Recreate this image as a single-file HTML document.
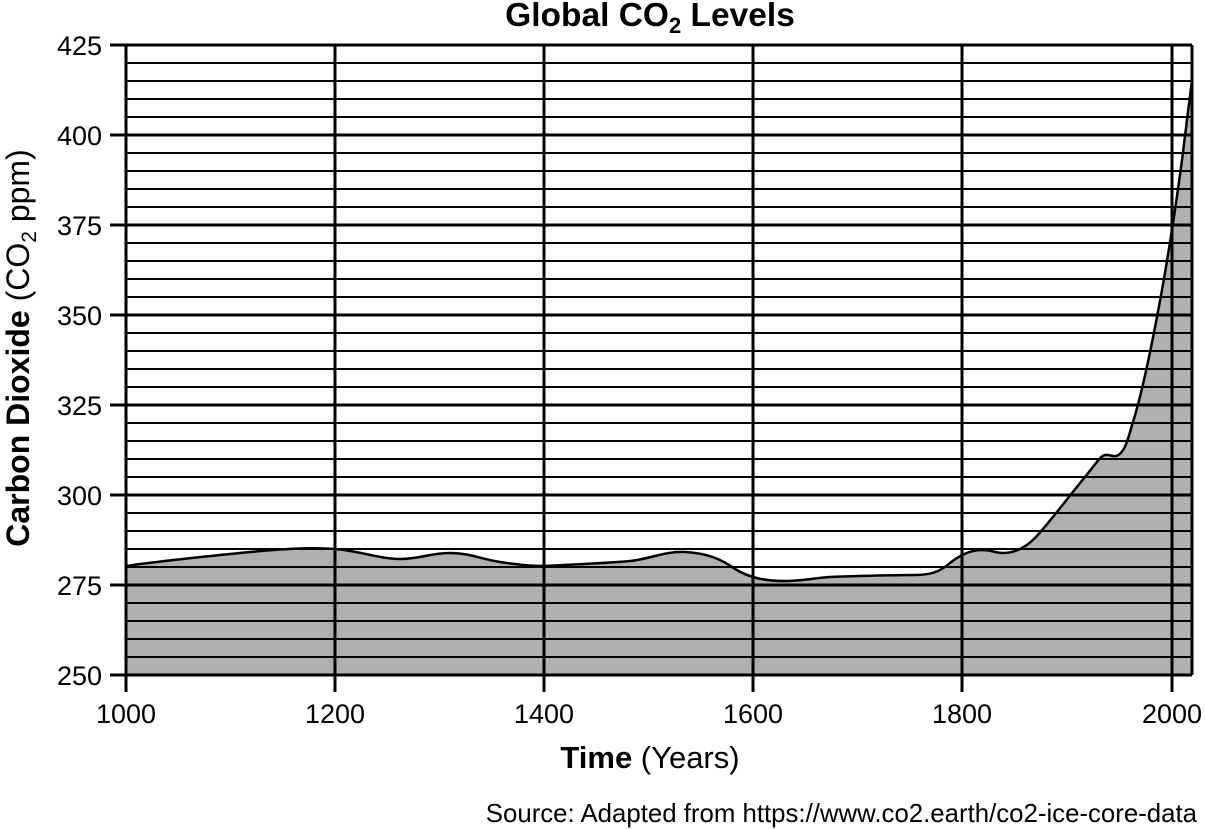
<!DOCTYPE html>
<html><head><meta charset="utf-8"><style>
html,body{margin:0;padding:0;background:#fff;}
svg{display:block;font-family:"Liberation Sans",Arial,sans-serif;}
</style></head><body>
<svg width="1205" height="829" viewBox="0 0 1205 829" xmlns="http://www.w3.org/2000/svg">
<path d="M126,566 C160,561 200,557 240,553 C280,549 310,547 335,549 C360,551 380,559 400,559 C420,559 430,553 450,553 C470,553 480,559 500,562 C520,565 530,566 544,566 C580,564 610,563 630,561 C650,559 665,551 685,552 C705,553 720,558 735,569 C750,578 765,581 785,581 C800,581 815,578 830,577 C860,576 890,575 915,575 C930,575 940,572 950,563 C960,555 970,550 982,550 C992,550 995,553 1003,553 C1015,553 1025,548 1035,538 C1050,522 1070,495 1085,477 C1095,465 1100,456 1105,455 C1110,454 1112,457 1116,456 C1124,454 1128,440 1132,425 C1142,395 1152,345 1162,290 C1170,245 1176,205 1182,160 C1186,130 1189,105 1192,80 L1192,675 L126,675 Z" fill="#b0b0b0"/>
<g stroke="#000" stroke-width="2">
<line x1="126" y1="63" x2="1192" y2="63"/><line x1="126" y1="81" x2="1192" y2="81"/><line x1="126" y1="99" x2="1192" y2="99"/><line x1="126" y1="117" x2="1192" y2="117"/>
<line x1="126" y1="153" x2="1192" y2="153"/><line x1="126" y1="171" x2="1192" y2="171"/><line x1="126" y1="189" x2="1192" y2="189"/><line x1="126" y1="207" x2="1192" y2="207"/>
<line x1="126" y1="243" x2="1192" y2="243"/><line x1="126" y1="261" x2="1192" y2="261"/><line x1="126" y1="279" x2="1192" y2="279"/><line x1="126" y1="297" x2="1192" y2="297"/>
<line x1="126" y1="333" x2="1192" y2="333"/><line x1="126" y1="351" x2="1192" y2="351"/><line x1="126" y1="369" x2="1192" y2="369"/><line x1="126" y1="387" x2="1192" y2="387"/>
<line x1="126" y1="423" x2="1192" y2="423"/><line x1="126" y1="441" x2="1192" y2="441"/><line x1="126" y1="459" x2="1192" y2="459"/><line x1="126" y1="477" x2="1192" y2="477"/>
<line x1="126" y1="513" x2="1192" y2="513"/><line x1="126" y1="531" x2="1192" y2="531"/><line x1="126" y1="549" x2="1192" y2="549"/><line x1="126" y1="567" x2="1192" y2="567"/>
<line x1="126" y1="603" x2="1192" y2="603"/><line x1="126" y1="621" x2="1192" y2="621"/><line x1="126" y1="639" x2="1192" y2="639"/><line x1="126" y1="657" x2="1192" y2="657"/>
</g>
<g stroke="#000" stroke-width="3">
<line x1="110" y1="45" x2="1192" y2="45"/><line x1="110" y1="135" x2="1192" y2="135"/><line x1="110" y1="225" x2="1192" y2="225"/><line x1="110" y1="315" x2="1192" y2="315"/><line x1="110" y1="405" x2="1192" y2="405"/><line x1="110" y1="495" x2="1192" y2="495"/><line x1="110" y1="585" x2="1192" y2="585"/><line x1="110" y1="675" x2="1192" y2="675"/>
<line x1="126" y1="45" x2="126" y2="692"/><line x1="335" y1="45" x2="335" y2="692"/><line x1="544" y1="45" x2="544" y2="692"/><line x1="753" y1="45" x2="753" y2="692"/><line x1="962" y1="45" x2="962" y2="692"/><line x1="1172" y1="45" x2="1172" y2="692"/><line x1="1192" y1="45" x2="1192" y2="675"/>
</g>
<path d="M126,566 C160,561 200,557 240,553 C280,549 310,547 335,549 C360,551 380,559 400,559 C420,559 430,553 450,553 C470,553 480,559 500,562 C520,565 530,566 544,566 C580,564 610,563 630,561 C650,559 665,551 685,552 C705,553 720,558 735,569 C750,578 765,581 785,581 C800,581 815,578 830,577 C860,576 890,575 915,575 C930,575 940,572 950,563 C960,555 970,550 982,550 C992,550 995,553 1003,553 C1015,553 1025,548 1035,538 C1050,522 1070,495 1085,477 C1095,465 1100,456 1105,455 C1110,454 1112,457 1116,456 C1124,454 1128,440 1132,425 C1142,395 1152,345 1162,290 C1170,245 1176,205 1182,160 C1186,130 1189,105 1192,80" fill="none" stroke="#000" stroke-width="2.5"/>
<g font-size="27" text-anchor="end" fill="#000">
<text x="102" y="55">425</text><text x="102" y="145">400</text><text x="102" y="235">375</text><text x="102" y="325">350</text><text x="102" y="415">325</text><text x="102" y="505">300</text><text x="102" y="595">275</text><text x="102" y="685">250</text>
</g>
<g font-size="27" text-anchor="middle" fill="#000">
<text x="126" y="723">1000</text><text x="335" y="723">1200</text><text x="544" y="723">1400</text><text x="753" y="723">1600</text><text x="962" y="723">1800</text><text x="1172" y="723">2000</text>
</g>
<text x="650" y="26" font-size="33.5" font-weight="bold" text-anchor="middle">Global CO<tspan font-size="22" dy="7">2</tspan><tspan dy="-7"> Levels</tspan></text>
<text x="650" y="768" font-size="31" text-anchor="middle"><tspan font-weight="bold">Time</tspan> (Years)</text>
<text transform="translate(29,348) rotate(-90)" font-size="32" text-anchor="middle"><tspan font-weight="bold">Carbon Dioxide</tspan> (CO<tspan font-size="21" dy="7">2</tspan><tspan dy="-7"> ppm)</tspan></text>
<text x="1197" y="822" font-size="25.8" text-anchor="end">Source: Adapted from https://www.co2.earth/co2-ice-core-data</text>
</svg>
</body></html>
